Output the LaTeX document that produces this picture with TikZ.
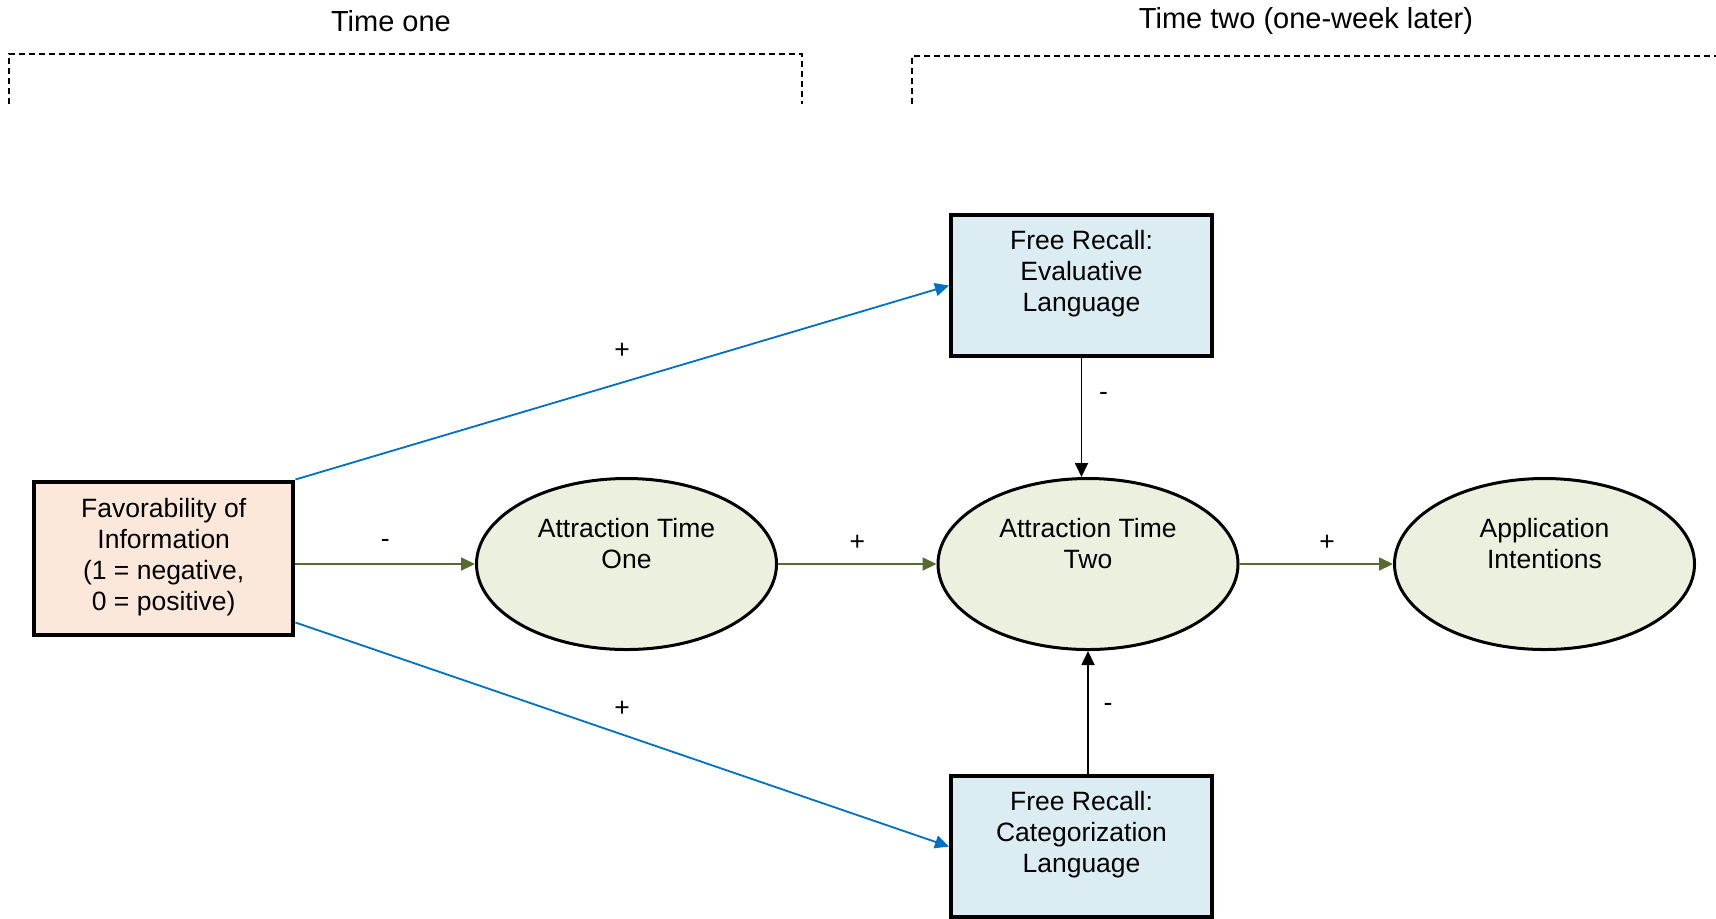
\documentclass[tikz,border=0pt]{standalone}
\usepackage{fontspec}
\setmainfont{Liberation Sans}
\usetikzlibrary{shapes.geometric,arrows.meta,calc}
\definecolor{peach}{RGB}{252,232,218}
\definecolor{lblue}{RGB}{219,237,243}
\definecolor{lgreen}{RGB}{235,241,222}
\definecolor{olivearr}{RGB}{85,107,47}
\definecolor{arrblue}{RGB}{0,112,192}
\begin{document}
\begin{tikzpicture}[x=0.5pt,y=-0.5pt,
  txt/.style={font=\fontsize{13.25}{15.5}\selectfont},
  head/.style={font=\fontsize{14.5}{17}\selectfont, inner sep=0pt},
  sqbox/.style={draw=black, line width=2pt, rectangle, inner sep=0pt},
  favbox/.style={sqbox, fill=peach, minimum width=129.75pt, minimum height=76.5pt},
  recbox/.style={sqbox, fill=lblue, minimum width=130.5pt, minimum height=70.5pt},
  oval/.style={draw=black, line width=1.5pt, ellipse, fill=lgreen, inner sep=0pt,
    minimum width=150pt, minimum height=85.5pt},
  intext/.style={txt, align=center, inner sep=0pt},
  arr/.style={-{Triangle[length=7pt,width=6.5pt]}, line width=0.9pt},
  garr/.style={arr, draw=olivearr, color=olivearr},
  barr/.style={arr, draw=arrblue, color=arrblue},
  karr/.style={arr, draw=black},
  sign/.style={txt, inner sep=0pt, text=black},
  bracket/.style={draw=black, line width=0.75pt, dash pattern=on 3pt off 2pt}
]
\useasboundingbox (0,0) rectangle (1716,918);
\clip (0,0) rectangle (1716,918);

% headings
\node[head] (t1) at (391,21) {Time one};
\node[head] (t2) at (1306,21) {Time two (one-week later)};

% dashed brackets
\draw[bracket] (9,104) -- (9,54) -- (802,54) -- (802,104);
\draw[bracket] (912,104) -- (912,56) -- (1720,56);

% nodes
\node[favbox] (fav) at (163.7,558) {};
\node[intext] at ($(fav.center)+(0,-1)$) {Favorability of\\Information\\(1 = negative,\\0 = positive)};

\node[oval] (ato) at (626.5,564) {};
\node[intext] at ($(ato.center)+(0,-20)$) {Attraction Time\\One};

\node[oval] (att) at (1088,564) {};
\node[intext] at ($(att.center)+(0,-20)$) {Attraction Time\\Two};

\node[oval] (ai) at (1544.5,564) {};
\node[intext] at ($(ai.center)+(0,-20)$) {Application\\Intentions};

\node[recbox] (fre) at (1081.5,285.5) {};
\node[intext] at ($(fre.center)+(0,-11.5)$) {Free Recall:\\Evaluative\\Language};

\node[recbox] (frc) at (1081.5,846.5) {};
\node[intext] at ($(frc.center)+(0,-11.5)$) {Free Recall:\\Categorization\\Language};

% connectors
\draw[garr] (fav.east |- ato.west) -- (ato.west)
  node[sign, pos=0.5, yshift=10.5pt] {-};
\draw[garr] (ato.east) -- (att.west)
  node[sign, pos=0.5, yshift=10.5pt] {+};
\draw[garr] (att.east) -- (ai.west)
  node[sign, pos=0.57, yshift=10.5pt] {+};

\draw[barr] (fav.north east) -- (fre.west)
  node[sign, pos=0.5, yshift=16pt] {+};
\draw[barr] ($(fav.south east)+(0,-14)$) -- (frc.west)
  node[sign, pos=0.5, yshift=13pt] {+};

\draw[karr] (fre.south) -- (fre.south |- att.north)
  node[sign, pos=0.32, xshift=11pt] {-};
\draw[karr] (att.south |- frc.north) -- (att.south)
  node[sign, pos=0.54, xshift=10pt] {-};
\end{tikzpicture}
\end{document}
